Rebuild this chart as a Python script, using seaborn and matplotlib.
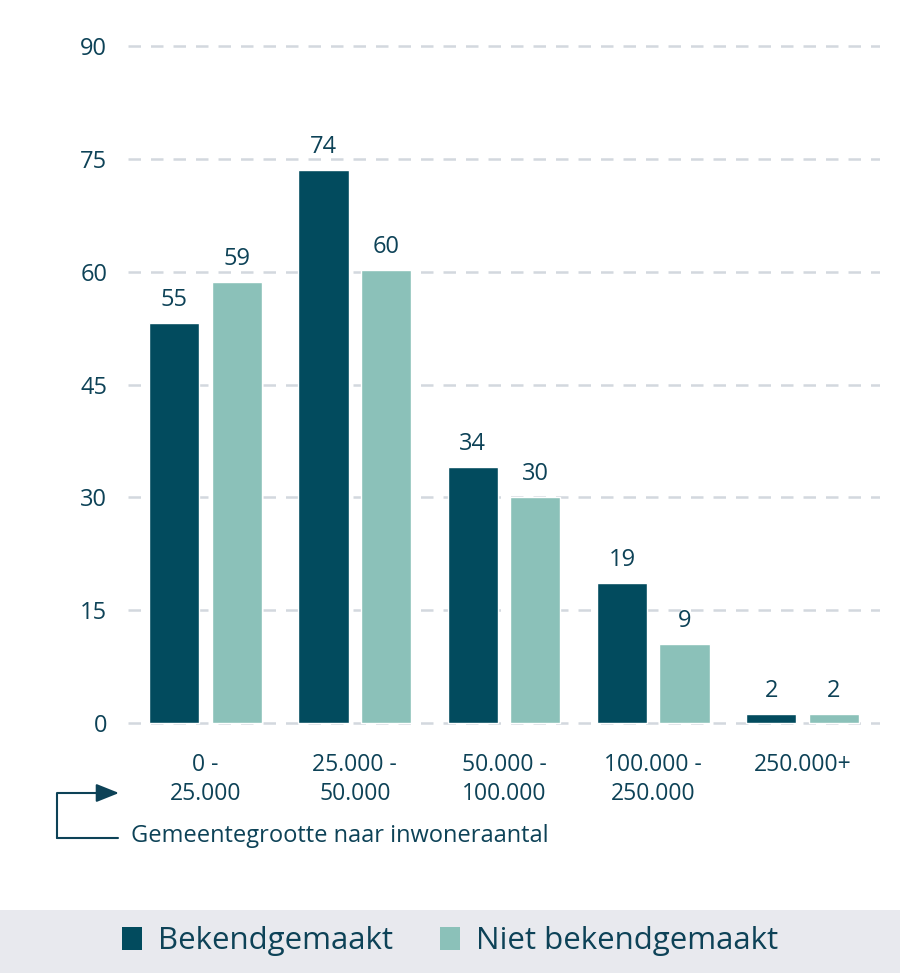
import matplotlib
matplotlib.use("Agg")
import matplotlib.pyplot as plt
import seaborn as sns
import pandas as pd
from matplotlib.patches import Rectangle, Patch
from matplotlib.lines import Line2D

# ---- data ----
categories = ["0 -\n25.000", "25.000 -\n50.000", "50.000 -\n100.000", "100.000 -\n250.000", "250.000+"]
series_names = ["Bekendgemaakt", "Niet bekendgemaakt"]
bekend_labels = [55, 74, 34, 19, 2]
niet_labels = [59, 60, 30, 9, 2]
# bar heights as drawn in the picture
bekend_heights = [53.2, 73.5, 34.0, 18.6, 1.2]
niet_heights = [58.6, 60.2, 30.0, 10.5, 1.2]
y_ticks = [0, 15, 30, 45, 60, 75, 90]
x_axis_label = "Gemeentegrootte naar inwoneraantal"

DARK = "#024b5e"
LIGHT = "#8bc1b9"
TEXT = "#0d4257"
GRID = "#d3d8de"

df = pd.DataFrame({
    "cat": categories * 2,
    "series": [series_names[0]] * 5 + [series_names[1]] * 5,
    "value": bekend_heights + niet_heights,
})

sns.set_theme(style="white")
plt.rcParams["font.family"] = ["Open Sans", "DejaVu Sans"]

fig = plt.figure(figsize=(9, 9.73), dpi=100)
ax = fig.add_axes([0.1422, 0.2492, 0.8356, 0.7112])

sns.barplot(data=df, x="cat", y="value", hue="series", order=categories,
            hue_order=series_names, palette=[DARK, LIGHT], width=0.84, gap=0.2,
            saturation=1, ax=ax, legend=False, zorder=3)

ax.set_xlim(-0.52, 4.52)
ax.set_ylim(-1, 91)
ax.set_yticks(y_ticks)
ax.set_yticklabels([str(t) for t in y_ticks])
for t in y_ticks:
    ax.axhline(t, color=GRID, lw=1.8, ls=(0, (5, 4)), zorder=1)
for s in ax.spines.values():
    s.set_visible(False)
ax.tick_params(axis="y", length=0, pad=15, labelsize=17, labelcolor=TEXT)
ax.tick_params(axis="x", length=0, pad=16, labelsize=16.5, labelcolor=TEXT)
for lbl in ax.get_xticklabels():
    lbl.set_linespacing(1.3)
ax.set_xlabel("")
ax.set_ylabel("")

for cont, labels in zip(ax.containers, [bekend_labels, niet_labels]):
    ax.bar_label(cont, labels=[str(v) for v in labels], padding=8,
                 fontsize=17, color=TEXT)

# axis caption with elbow arrow
ax.annotate("", xy=(119, 180), xytext=(57, 135), xycoords="figure pixels",
            textcoords="figure pixels",
            arrowprops=dict(arrowstyle="-|>,head_length=1.0,head_width=0.4",
                            connectionstyle="angle,angleA=90,angleB=0,rad=0",
                            color=TEXT, lw=1.5, shrinkA=0, shrinkB=0,
                            mutation_scale=14))
fig.add_artist(Line2D([57 / 900, 118 / 900], [135 / 973, 135 / 973], color=TEXT, lw=1.5))
fig.text(131 / 900, 137 / 973, x_axis_label, fontsize=17, color=TEXT, va="center", ha="left")

# legend band
fig.add_artist(Rectangle((0, 0), 1, 63 / 973, transform=fig.transFigure,
                         facecolor="#e8e9ee", edgecolor="none", zorder=0))
handles = [Patch(facecolor=DARK, edgecolor="none"), Patch(facecolor=LIGHT, edgecolor="none")]
fig.legend(handles, series_names, loc="center", bbox_to_anchor=(0.5, 32 / 973),
           ncol=2, frameon=False, fontsize=22.5, labelcolor=TEXT,
           handlelength=0.65, handleheight=0.75, handletextpad=0.5, columnspacing=1.5)

fig.savefig("out.png", dpi=100)
